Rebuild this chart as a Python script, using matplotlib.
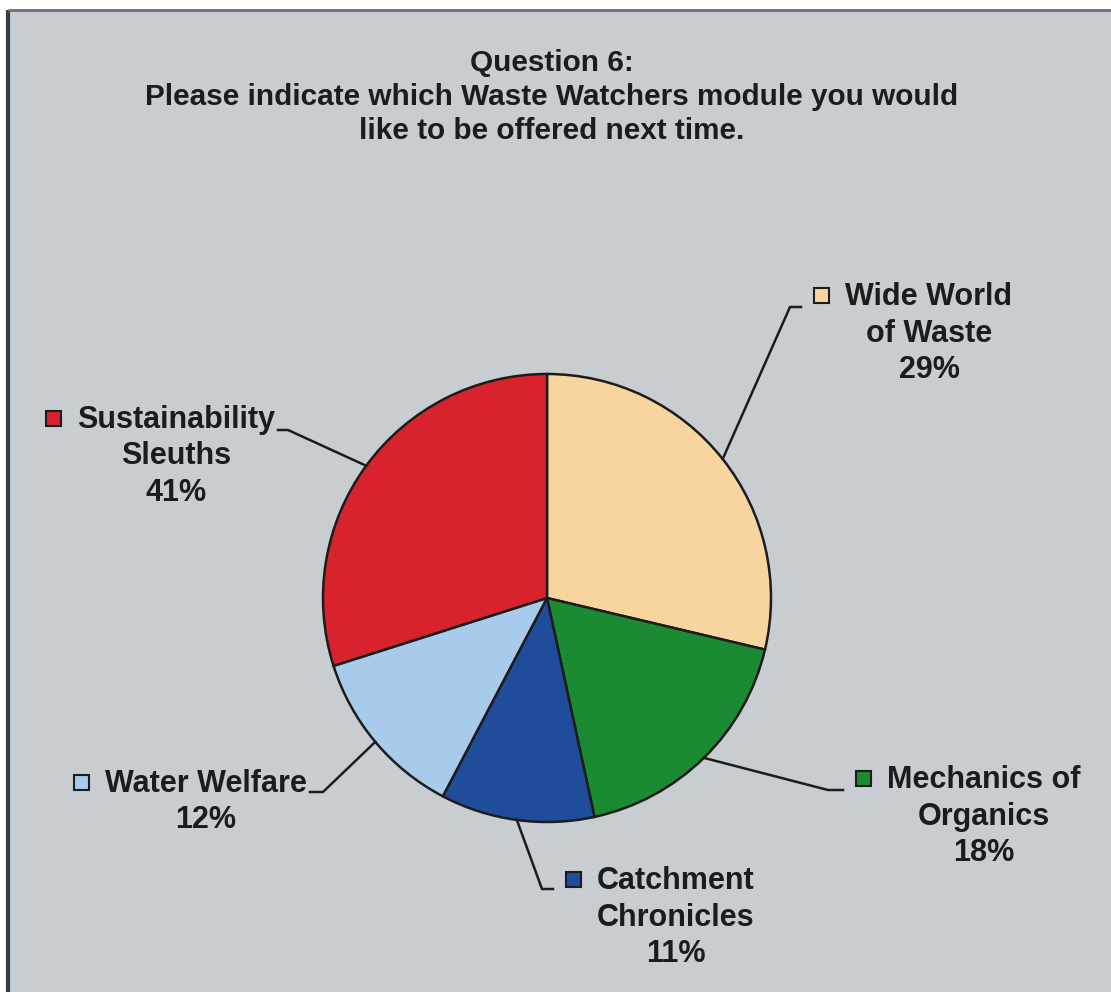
import numpy as np
import matplotlib
matplotlib.use("Agg")
import matplotlib.pyplot as plt
from matplotlib.patches import Rectangle

# slice sizes (the printed labels do not sum to 100)
modules = ["Wide World of Waste", "Mechanics of Organics", "Catchment Chronicles",
           "Water Welfare", "Sustainability Sleuths"]
label_lines = [["Wide World", "of Waste"], ["Mechanics of", "Organics"],
               ["Catchment", "Chronicles"], ["Water Welfare"],
               ["Sustainability", "Sleuths"]]
slice_sizes = [28.7, 17.9, 11.1, 12.4, 29.9]
pct_labels = ["29%", "18%", "11%", "12%", "41%"]
colors = ["#F8D59F", "#1A8A33", "#1F4D9C", "#A8CBEC", "#D8232E"]

title_lines = ["Question 6:",
               "Please indicate which Waste Watchers module you would",
               "like to be offered next time."]

W, H = 1111, 992
BG = "#C8CDD2"
INK = "#1c1c1c"
font = ["Liberation Sans", "DejaVu Sans"]


def Y(p):
    # pixel row (from top) -> data y
    return H - p


fig = plt.figure(figsize=(W / 100, H / 100), dpi=100)
fig.patch.set_facecolor("white")
ax = fig.add_axes([0, 0, 1, 1])

cx, cy, r = 547, Y(598), 224
wedges, _ = ax.pie(slice_sizes, colors=colors, startangle=90, counterclock=False,
                   radius=r, center=(cx, cy),
                   wedgeprops=dict(edgecolor=INK, linewidth=1.8))
ax.set_xlim(0, W)
ax.set_ylim(0, H)
ax.set_aspect("auto")
ax.axis("off")

# grey chart panel with dark left / top edge
ax.add_patch(Rectangle((8, 0), W, Y(11), facecolor=BG, edgecolor="none", zorder=-5))
ax.plot([8, 8], [0, Y(10)], color="#3a3d40", lw=3, zorder=-4, solid_capstyle="butt")
ax.plot([8, W], [Y(10), Y(10)], color="#6b6e72", lw=2, zorder=-4, solid_capstyle="butt")

for i, s in enumerate(title_lines):
    ax.text(552, Y(71 + i * 34), s, ha="center", va="baseline", fontsize=21.4,
            fontweight="bold", family=font, color=INK)

# label layout: (text centre x, first baseline, elbow x, elbow y, end x)
layout = [
    (929, 305, 790, 307, 801),
    (984, 788, 828, 790, 843),
    (676, 889, 542, 889, 553),
    (206, 792, 323, 792, 310),
    (176, 428, 288, 430, 278),
]

fig.canvas.draw()
renderer = fig.canvas.get_renderer()
lh = 36.5

for w, lines, pct, lay, col in zip(wedges, label_lines, pct_labels, layout, colors):
    tx, ty, ex, ey, endx = lay
    mid = np.deg2rad((w.theta1 + w.theta2) / 2)
    sx, sy = cx + r * np.cos(mid), cy + r * np.sin(mid)
    ax.plot([sx, ex, endx], [sy, Y(ey), Y(ey)], color=INK, lw=1.8)

    for i, s in enumerate(lines + [pct]):
        t = ax.text(tx, Y(ty + i * lh), s, ha="center", va="baseline", fontsize=22,
                    fontweight="bold", family=font, color=INK)
        if i == 0:
            bb = t.get_window_extent(renderer)
            mx = bb.x0 - 24
            ax.add_patch(Rectangle((mx - 7.5, Y(ty - 10) - 7.5), 15, 15, facecolor=col,
                                   edgecolor=INK, lw=1.5))

fig.savefig("out.png", dpi=100, facecolor=fig.get_facecolor())
